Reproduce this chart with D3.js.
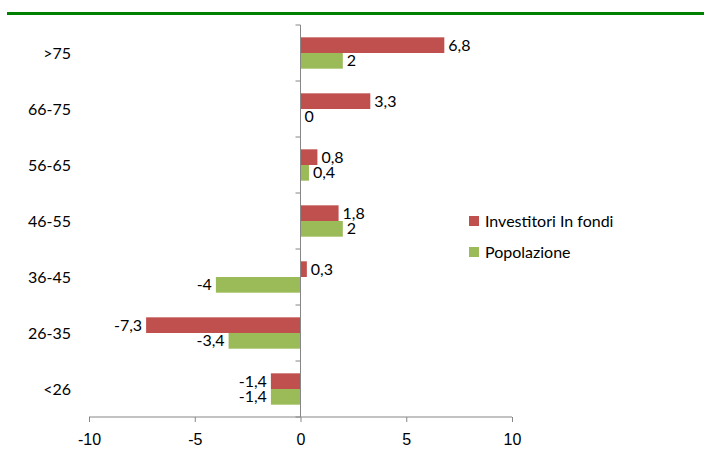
<!DOCTYPE html>
<html>
<head>
<meta charset="utf-8">
<script src="https://cdn.jsdelivr.net/npm/d3@7"></script>
<style>
  body { margin: 0; background: #fff; }
  svg { display: block; font-family: Lato, "Open Sans", sans-serif; }
</style>
</head>
<body>
<div id="chart"></div>
<script>
// Age groups, top to bottom
const categories = [">75", "66-75", "56-65", "46-55", "36-45", "26-35", "<26"];
const investitori = [6.8, 3.3, 0.8, 1.8, 0.3, -7.3, -1.4];
const popolazione = [2, 0, 0.4, 2, -4, -3.4, -1.4];
const seriesNames = ["Investitori In fondi", "Popolazione"];
const xTicks = [-10, -5, 0, 5, 10];

const width = 704, height = 459;
const colors = ["#C0504D", "#9BBB59"];
const axisColor = "#868686";
const fontSize = "16px";

const svg = d3.select("#chart").append("svg")
  .attr("width", width)
  .attr("height", height);

// green rule at the top
svg.append("rect")
  .attr("x", 7).attr("y", 12)
  .attr("width", width - 7).attr("height", 3)
  .attr("fill", "#008000");

const x = d3.scaleLinear().domain([-10, 10]).range([89, 512]);
const y = d3.scaleBand().domain(categories).range([25, 417]).paddingInner(0.44).paddingOuter(0.22);
const sub = d3.scaleBand().domain([0, 1]).range([0, y.bandwidth()]);

const series = [investitori, popolazione];

// bars
series.forEach((vals, si) => {
  svg.append("g").selectAll("rect")
    .data(vals)
    .join("rect")
    .attr("x", d => x(Math.min(0, d)))
    .attr("y", (d, i) => y(categories[i]) + sub(si))
    .attr("width", d => Math.abs(x(d) - x(0)))
    .attr("height", sub.bandwidth())
    .attr("fill", colors[si]);
});

// x axis
const xAxis = svg.append("g")
  .attr("transform", "translate(0,417)")
  .call(d3.axisBottom(x).tickValues(xTicks).tickSize(5).tickPadding(12).tickFormat(d => d));
xAxis.select(".domain").attr("stroke", axisColor).attr("d", "M89,0H512");
xAxis.selectAll(".tick line").attr("stroke", axisColor);
xAxis.selectAll(".tick text").attr("fill", "#000").style("font-size", fontSize);

// vertical axis at zero with ticks at band boundaries
const step = (417 - 25) / categories.length;
svg.append("line")
  .attr("x1", x(0)).attr("x2", x(0))
  .attr("y1", 25).attr("y2", 417)
  .attr("stroke", axisColor);
svg.append("g").selectAll("line")
  .data(d3.range(categories.length + 1))
  .join("line")
  .attr("x1", x(0) - 5).attr("x2", x(0))
  .attr("y1", i => 25 + i * step).attr("y2", i => 25 + i * step)
  .attr("stroke", axisColor);

// category labels
svg.append("g").selectAll("text")
  .data(categories)
  .join("text")
  .attr("x", 71)
  .attr("y", d => y(d) + y.bandwidth() / 2)
  .attr("dy", "0.35em")
  .attr("text-anchor", "end")
  .style("font-size", fontSize)
  .text(d => d);

// value labels
const fmt = v => String(v).replace(".", ",");
series.forEach((vals, si) => {
  svg.append("g").selectAll("text")
    .data(vals)
    .join("text")
    .attr("x", d => d < 0 ? x(d) - 4 : x(d) + 4)
    .attr("y", (d, i) => y(categories[i]) + sub(si) + sub.bandwidth() / 2)
    .attr("dy", "0.35em")
    .attr("text-anchor", d => d < 0 ? "end" : "start")
    .style("font-size", fontSize)
    .text(d => fmt(d));
});

// legend
const legend = svg.append("g").selectAll("g")
  .data(seriesNames)
  .join("g")
  .attr("transform", (d, i) => `translate(469,${216 + i * 31})`);
legend.append("rect")
  .attr("width", 10).attr("height", 10)
  .attr("fill", (d, i) => colors[i]);
legend.append("text")
  .attr("x", 16).attr("y", 5)
  .attr("dy", "0.35em")
  .style("font-size", fontSize)
  .text(d => d);
</script>
</body>
</html>
